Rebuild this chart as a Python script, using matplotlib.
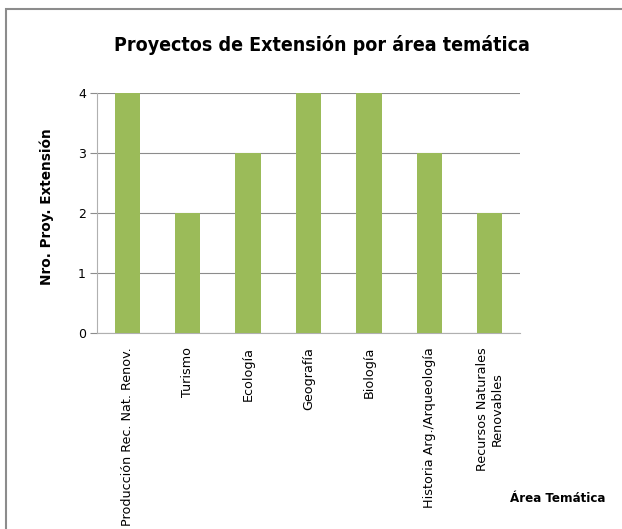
import matplotlib.pyplot as plt
from matplotlib.patches import Rectangle

areas = ["Producción Rec. Nat. Renov.", "Turismo", "Ecología", "Geografía",
         "Biología", "Historia Arg./Arqueología", "Recursos Naturales\nRenovables"]
proyectos = [4, 2, 3, 4, 4, 3, 2]

fig = plt.figure(figsize=(6.22, 5.29), dpi=100)
fig.patches.append(Rectangle((6 / 622, -0.1), 1.0, 1.1 - 9 / 529,
                             transform=fig.transFigure, fill=False,
                             edgecolor="#8c8c8c", linewidth=1.5))

ax = fig.add_axes([97 / 622, 1 - 333 / 529, 423 / 622, 240 / 529])
x = range(len(areas))
ax.bar(x, proyectos, width=0.42, color="#9bbb59", zorder=3)
ax.set_xlim(-0.5, len(areas) - 0.5)
ax.set_ylim(0, 4)
ax.set_yticks([0, 1, 2, 3, 4])
ax.yaxis.grid(True, color="#8c8c8c", linewidth=0.8)
ax.set_xticks(list(x))
ax.set_xticklabels(areas, rotation=90, fontsize=9.2, va="top", ha="center",
                   multialignment="center")
ax.tick_params(axis="x", length=0, pad=10)
ax.tick_params(axis="y", length=5, color="#8c8c8c", labelsize=9, pad=3)
for s in ["top", "right"]:
    ax.spines[s].set_visible(False)
ax.spines["left"].set_color("#b0b0b0")
ax.spines["bottom"].set_color("#b0b0b0")

ax.set_ylabel("Nro. Proy. Extensión", fontsize=9.8, fontweight="bold")
ax.yaxis.set_label_coords(-0.102, 0.525)
fig.text(322 / 622, 1 - 45 / 529, "Proyectos de Extensión por área temática",
         ha="center", va="center", fontsize=14, fontweight="bold",
         fontstretch="condensed")
fig.text(558 / 622, 1 - 498 / 529, "Área Temática", ha="center", va="center",
         fontsize=9.5, fontweight="bold", fontstretch="condensed")

fig.savefig("out.png", dpi=100)
